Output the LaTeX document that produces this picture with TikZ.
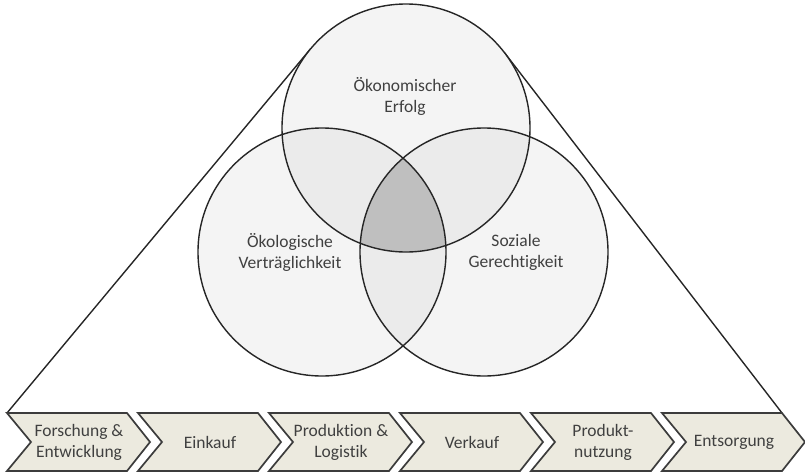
\documentclass[tikz,border=0pt]{standalone}
\usepackage{fontspec}
\setmainfont{Carlito}[Ligatures={NoCommon}]
\usetikzlibrary{calc}
\definecolor{txtgray}{HTML}{404040}
\definecolor{linegray}{HTML}{262626}
\definecolor{onefill}{HTML}{F4F4F4}
\definecolor{twofill}{HTML}{EBEBEB}
\definecolor{threefill}{HTML}{BFBFBF}
\definecolor{chevfill}{HTML}{ECEADF}
\tikzset{
	venn/.style={circle, minimum size=248pt, inner sep=0pt, outer sep=0pt},
	ring/.style={draw=linegray, line width=1.4pt},
	lbl/.style={align=center, text=txtgray, font=\fontsize{17.5}{21}\selectfont},
	chev/.style={draw=linegray!90, line width=1.7pt, fill=chevfill, line join=miter},
}

\begin{document}
\begin{tikzpicture}[x=1pt, y=-1pt]
			%%%%% START %%%%%
			\useasboundingbox (0,0) rectangle (805,472);
			
			\node[venn] (econ) at (406,128) {};
			\node[venn] (ecol) at (322,252) {};
			\node[venn] (soc) at (484,252) {};
			\coordinate (basel) at (7,413);
			\coordinate (baser) at (782,413);
			
			% triangle behind the circles
			\draw[ring] (basel) -- (tangent cs:node=econ,point={(basel)},solution=2);
			\draw[ring] (baser) -- (tangent cs:node=econ,point={(baser)},solution=1);
			
			\fill[onefill] (econ.center) circle (124);
			\fill[onefill] (ecol.center) circle (124);
			\fill[onefill] (soc.center) circle (124);
			
			\begin{scope}
				\clip (econ.center) circle (124);
				\fill[twofill] (ecol.center) circle (124);
				\fill[twofill] (soc.center) circle (124);
			\end{scope}
			\begin{scope}
				\clip (ecol.center) circle (124);
				\fill[twofill] (soc.center) circle (124);
				\clip (soc.center) circle (124);
				\fill[threefill] (econ.center) circle (124);
			\end{scope}
			
			\draw[ring] (econ.center) circle (124);
			\draw[ring] (ecol.center) circle (124);
			\draw[ring] (soc.center) circle (124);
			
			\node[lbl] (econtxt) at (405,96) {Ökonomischer\\Erfolg};
			\node[lbl] (ecoltxt) at (290,252) {Ökologische\\Verträglichkeit};
			\node[lbl] (soctxt) at (516,252) {Soziale\\Gerechtigkeit};
			
			% value chain
			\foreach \txt [count=\i] in {{Forschung \&\\Entwicklung}, Einkauf, {Produktion \&\\Logistik}, Verkauf, {Produkt-\\nutzung}, Entsorgung}{
				\pgfmathsetmacro{\xs}{7+131*(\i-1)}
				\draw[chev] (\xs,413) -- ++(120,0) -- ++(23,29) -- ++(-23,29) -- ++(-120,0) -- ++(24,-29) -- cycle;
				\node[lbl] (step\i) at (\xs+72,442) {\txt};
			}
			
			%%%%% END %%%%%
\end{tikzpicture}
\end{document}
